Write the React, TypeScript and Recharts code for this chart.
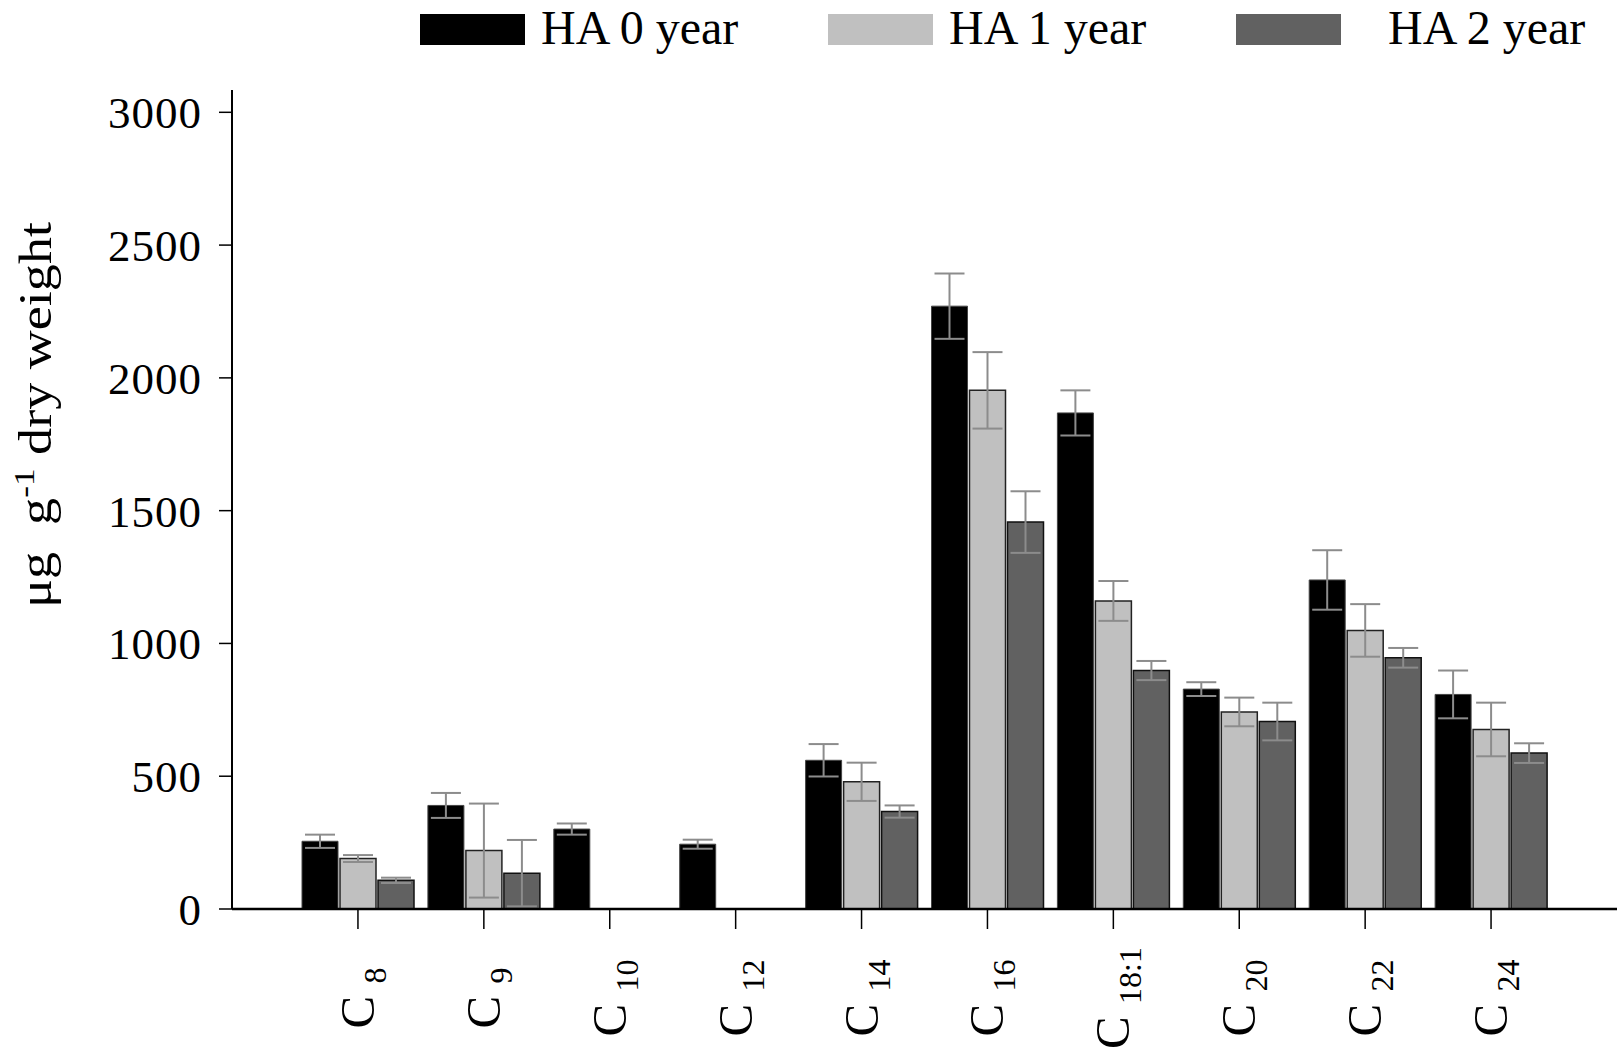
import React from "react";
import { BarChart, Bar, XAxis, YAxis, ErrorBar } from "recharts";

const FONT = '"Liberation Serif", "Times New Roman", serif';

const categories = ["8", "9", "10", "12", "14", "16", "18:1", "20", "22", "24"];
const ha0 = [255, 390, 301, 244, 560, 2270, 1868, 828, 1239, 808];
const ha0Err = [25, 47, 21, 17, 61, 123, 85, 26, 112, 90];
const ha1 = [190, 220, null, null, 479, 1953, 1160, 742, 1049, 676];
const ha1Err = [13, 177, null, null, 72, 144, 75, 54, 99, 101];
const ha2 = [108, 135, null, null, 367, 1457, 898, 706, 946, 587];
const ha2Err = [10, 125, null, null, 23, 116, 36, 71, 37, 37];
const yTicks = [0, 500, 1000, 1500, 2000, 2500, 3000];
const seriesNames = ["HA 0 year", "HA 1 year", "HA 2 year"];
const seriesColors = ["#000000", "#c0c0c0", "#616161"];

const data = categories.map((c, i) => ({
  cat: c,
  ha0: ha0[i],
  ha0Err: ha0Err[i],
  ha1: ha1[i],
  ha1Err: ha1Err[i],
  ha2: ha2[i],
  ha2Err: ha2Err[i],
}));

const XTick = (props: any) => {
  const { x, y, payload } = props;
  const cx = x + 16;
  const cy = y + 67;
  return (
    <text
      transform={`rotate(-90, ${cx}, ${cy})`}
      x={cx}
      y={cy}
      textAnchor="middle"
      fontFamily={FONT}
      fill="#000"
      style={{ whiteSpace: "pre" }}
    >
      <tspan fontSize={49}>{"C "}</tspan>
      <tspan fontSize={32} dy={12}>
        {payload.value}
      </tspan>
    </text>
  );
};

const YTitle = () => {
  const cx = 51;
  const cy = 415;
  return (
    <text
      transform={`rotate(-90, ${cx}, ${cy})`}
      x={cx}
      y={cy}
      textAnchor="middle"
      fontFamily={FONT}
      fill="#000"
      fontSize={46}
      textLength={386}
      lengthAdjust="spacingAndGlyphs"
      style={{ whiteSpace: "pre" }}
    >
      <tspan>{"μg  g"}</tspan>
      <tspan fontSize={30} dy={-17}>
        {"-1"}
      </tspan>
      <tspan dy={17}>{" dry weight"}</tspan>
    </text>
  );
};

const LegendOverlay = () => (
  <svg
    width={1617}
    height={70}
    style={{ position: "absolute", left: 0, top: 0, pointerEvents: "none" }}
  >
    {seriesNames.map((name, i) => {
      const rx = 420 + 408 * i;
      const tx = rx + (i === 2 ? 152 : 121);
      return (
        <g key={name}>
          <rect x={rx} y={14} width={105} height={31} fill={seriesColors[i]} />
          <text x={tx} y={44} fontSize={48} fontFamily={FONT} fill="#000">
            {name}
          </text>
        </g>
      );
    })}
  </svg>
);

export default function App() {
  const errStyle = { stroke: "#8c8c8c", strokeWidth: 2 };
  return (
    <div
      style={{
        position: "absolute",
        left: 0,
        top: 0,
        width: 1617,
        height: 1061,
        background: "#fff",
      }}
    >
      <BarChart
        width={1617}
        height={1061}
        data={data}
        margin={{ top: 90, right: 0, left: 0, bottom: 0 }}
        barGap={2}
        barSize={36}
      >
        <XAxis
          dataKey="cat"
          interval={0}
          height={152}
          padding={{ left: 63, right: 63 }}
          axisLine={{ stroke: "#000", strokeWidth: 2.5 }}
          tickLine={{ stroke: "#000", strokeWidth: 1.5 }}
          tickSize={20}
          tick={<XTick />}
        />
        <YAxis
          domain={[0, 3084]}
          ticks={yTicks}
          width={232}
          interval={0}
          axisLine={{ stroke: "#000", strokeWidth: 2 }}
          tickLine={{ stroke: "#000", strokeWidth: 1.5 }}
          tickSize={13}
          tickMargin={17}
          tick={{ fontFamily: FONT, fontSize: 45, fill: "#000", letterSpacing: 1 }}
          label={<YTitle />}
        />
        <Bar dataKey="ha0" fill={seriesColors[0]} stroke="#444" strokeWidth={1} isAnimationActive={false}>
          <ErrorBar dataKey="ha0Err" width={15} {...errStyle} />
        </Bar>
        <Bar dataKey="ha1" fill={seriesColors[1]} stroke="#222" strokeWidth={1.5} isAnimationActive={false}>
          <ErrorBar dataKey="ha1Err" width={15} {...errStyle} />
        </Bar>
        <Bar dataKey="ha2" fill={seriesColors[2]} stroke="#111" strokeWidth={1.5} isAnimationActive={false}>
          <ErrorBar dataKey="ha2Err" width={15} {...errStyle} />
        </Bar>
      </BarChart>
      <LegendOverlay />
    </div>
  );
}
